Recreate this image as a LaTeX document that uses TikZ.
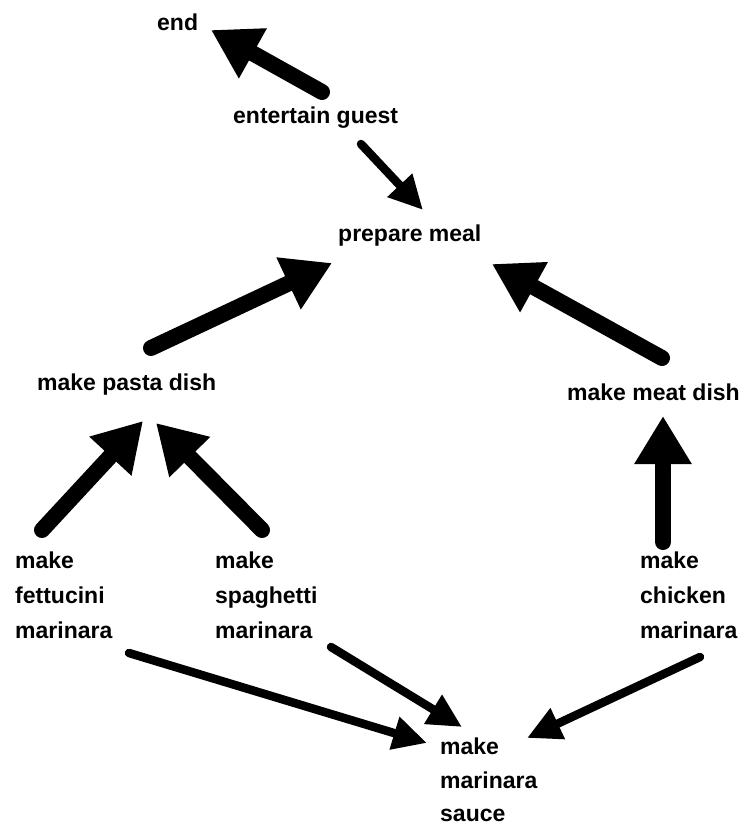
\documentclass[tikz,border=0pt]{standalone}
\usepackage{fontspec}
\setmainfont{Liberation Sans}
\usetikzlibrary{arrows.meta}
\tikzset{
  lbl/.style={anchor=west, inner sep=0pt, align=left, font=\bfseries\fontsize{23}{35}\selectfont},
  bigarrow/.style={line width=16pt, line cap=round, -{Triangle[length=48pt,width=54pt]}},
  thinarrow/.style={line width=8.5pt, line cap=round, -{Triangle[length=34pt,width=32pt]}},
}
\begin{document}
\begin{tikzpicture}[x=1pt,y=-1pt]
\useasboundingbox (0,0) rectangle (743,825);
% labels
\node[lbl] (end) at (157,22) {end};
\node[lbl] (eg) at (233,118) {entertain guest};
\node[lbl] (pm) at (338,236) {prepare meal};
\node[lbl] (pd) at (37,385) {make pasta dish};
\node[lbl] (md) at (567,392) {make meat dish};
\node[lbl] (fm) at (15,595) {make\\fettucini\\marinara};
\node[lbl] (sm) at (215,595) {make\\spaghetti\\marinara};
\node[lbl] (cm) at (640,595) {make\\chicken\\marinara};
\node[lbl, font=\bfseries\fontsize{23}{33.5}\selectfont] (ms) at (440,780) {make\\marinara\\sauce};
% connector end points
\coordinate (eg-a) at (322,92);
\coordinate (end-a) at (211,30);
\coordinate (eg-b) at (361,144);
\coordinate (pm-a) at (423,210);
\coordinate (pd-a) at (151,348);
\coordinate (pm-b) at (332,263);
\coordinate (md-a) at (662,358);
\coordinate (pm-c) at (492,264);
\coordinate (fm-a) at (42,530);
\coordinate (pd-b) at (143,421);
\coordinate (sm-a) at (262,530);
\coordinate (pd-c) at (156,423);
\coordinate (cm-a) at (663,542);
\coordinate (md-b) at (663,416);
\coordinate (fm-b) at (129,653);
\coordinate (ms-a) at (427,743);
\coordinate (sm-b) at (331,647);
\coordinate (ms-b) at (462,727);
\coordinate (cm-b) at (700,657);
\coordinate (ms-c) at (527,738);
% connectors
\draw[bigarrow] (eg-a) -- (end-a);
\draw[thinarrow] (eg-b) -- (pm-a);
\draw[bigarrow] (pd-a) -- (pm-b);
\draw[bigarrow] (md-a) -- (pm-c);
\draw[bigarrow] (fm-a) -- (pd-b);
\draw[bigarrow] (sm-a) -- (pd-c);
\draw[bigarrow] (cm-a) -- (md-b);
\draw[thinarrow] (fm-b) -- (ms-a);
\draw[thinarrow] (sm-b) -- (ms-b);
\draw[thinarrow] (cm-b) -- (ms-c);
\end{tikzpicture}
\end{document}
